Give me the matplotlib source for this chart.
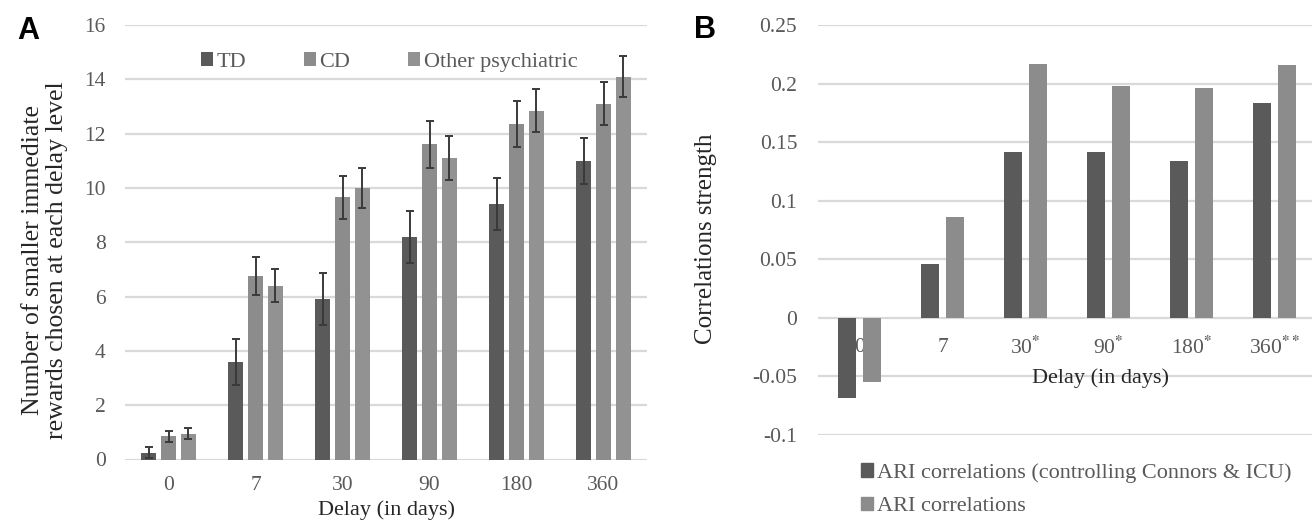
import matplotlib
matplotlib.use("Agg")
import matplotlib.pyplot as plt
import numpy as np
from matplotlib.patches import Patch

# ---------------- data ----------------
delays = ["0", "7", "30", "90", "180", "360"]
groups_a = ["TD", "CD", "Other psychiatric"]
td_vals = [0.25, 3.6, 5.9, 8.2, 9.4, 11.0]
cd_vals = [0.85, 6.75, 9.65, 11.6, 12.35, 13.1]
other_vals = [0.95, 6.4, 10.0, 11.1, 12.85, 14.1]
td_err = [0.2, 0.85, 0.95, 0.95, 0.95, 0.85]
cd_err = [0.2, 0.7, 0.8, 0.85, 0.85, 0.8]
other_err = [0.2, 0.6, 0.75, 0.8, 0.8, 0.75]
yticks_a = [0, 2, 4, 6, 8, 10, 12, 14, 16]

delay_stars_b = ["", "", "*", "*", "*", "**"]
series_b = ["ARI correlations (controlling Connors & ICU)", "ARI correlations"]
ari_ctrl = [-0.068, 0.046, 0.142, 0.142, 0.134, 0.183]
ari_raw = [-0.055, 0.086, 0.217, 0.198, 0.196, 0.216]
yticks_b = [-0.1, -0.05, 0, 0.05, 0.1, 0.15, 0.2, 0.25]
yticklabels_b = ["-0.1", "-0.05", "0", "0.05", "0.1", "0.15", "0.2", "0.25"]

# ---------------- style ----------------
W, H = 1312, 520
SERIF = ["Liberation Serif", "DejaVu Serif"]
plt.rcParams["font.family"] = SERIF
plt.rcParams["mathtext.fontset"] = "stix"
DARK = "#5a5a5a"
LIGHT = "#8c8c8c"
LIGHT2 = "#929292"
GRID = "#d9d9d9"
TICKC = "#595959"
LABELC = "#262626"

fig = plt.figure(figsize=(W / 100, H / 100), dpi=100)


def fx(px):
    return px / W


def fy(py):
    return 1 - py / H


# ---------------- panel A ----------------
axA = fig.add_axes([fx(125), fy(459.5), fx(647 - 125), fy(25) - fy(459.5)])
x = np.arange(len(delays))
bw = 0.175
off = 0.227
ekw = dict(ecolor="#3a3a3a", elinewidth=1.4, capsize=3, capthick=1.4)
axA.bar(x - off, td_vals, bw, yerr=td_err, color=DARK, error_kw=ekw, zorder=3, label=groups_a[0])
axA.bar(x, cd_vals, bw, yerr=cd_err, color=LIGHT, error_kw=ekw, zorder=3, label=groups_a[1])
axA.bar(x + off, other_vals, bw, yerr=other_err, color=LIGHT2, error_kw=ekw, zorder=3, label=groups_a[2])
axA.set_xlim(-0.5, len(delays) - 0.5)
axA.set_ylim(0, 16)
axA.set_yticks(yticks_a)
axA.set_yticklabels([str(v) for v in yticks_a])
axA.set_xticks(x)
axA.set_xticklabels(delays)
axA.yaxis.grid(True, color=GRID, linewidth=1.6, zorder=0)
axA.set_axisbelow(True)
for s in axA.spines.values():
    s.set_visible(False)
axA.tick_params(axis="both", length=0, labelsize=15.5, colors=TICKC)
axA.tick_params(axis="y", pad=14)
axA.tick_params(axis="x", pad=12)

fig.text(fx(386), fy(510), "Delay (in days)", ha="center", va="center",
         fontsize=16, color=LABELC)
fig.text(fx(45), fy(260), "Number of smaller immediate\nrewards chosen at each delay level",
         rotation=90, ha="center", va="center", fontsize=18.5, color=LABELC,
         linespacing=1.1, multialignment="center")
fig.text(fx(28), fy(31), "A", ha="center", va="center", fontsize=22,
         fontweight="bold", family=["Liberation Sans", "DejaVu Sans"], color="black")

legA = axA.legend(loc="center", bbox_to_anchor=(fx(389), fy(62)),
                  bbox_transform=fig.transFigure, ncol=3, frameon=False,
                  fontsize=16, handlelength=0.55, handleheight=0.55,
                  handletextpad=0.15, columnspacing=2.6, borderpad=0)
for t in legA.get_texts():
    t.set_color(TICKC)

# ---------------- panel B ----------------
axB = fig.add_axes([fx(818), fy(435), fx(1316 - 818), fy(25) - fy(435)])
bwb = 0.223
offb = 0.148
axB.bar(x - offb, ari_ctrl, bwb, color=DARK, zorder=3, label=series_b[0])
axB.bar(x + offb, ari_raw, bwb, color=LIGHT, zorder=3, label=series_b[1])
axB.set_xlim(-0.5, len(delays) - 0.5)
axB.set_ylim(-0.1, 0.25)
axB.set_yticks(yticks_b)
axB.set_yticklabels(yticklabels_b)
axB.set_xticks([])
axB.yaxis.grid(True, color=GRID, linewidth=1.6, zorder=0)
axB.set_axisbelow(True)
for s in axB.spines.values():
    s.set_visible(False)
axB.tick_params(axis="both", length=0, labelsize=15.5, colors=TICKC)
axB.tick_params(axis="y", pad=15)

for i, (d, st) in enumerate(zip(delays, delay_stars_b)):
    lab = d if not st else d + r"$^{\mathbf{" + st + "}}$"
    axB.annotate(lab, (i, 0), xytext=(0, -21.5), textcoords="offset points",
                 ha="center", va="center", fontsize=15.5, color=TICKC, zorder=2)

fig.text(fx(1100), fy(378), "Delay (in days)", ha="center", va="center",
         fontsize=16, color=LABELC)
fig.text(fx(706), fy(239), "Correlations strength", rotation=90,
         ha="center", va="center", fontsize=18, color=LABELC)
fig.text(fx(705), fy(30), "B", ha="center", va="center", fontsize=22,
         fontweight="bold", family=["Liberation Sans", "DejaVu Sans"], color="black")

legB = fig.legend(handles=[Patch(color=DARK, label=series_b[0]),
                           Patch(color=LIGHT, label=series_b[1])],
                  loc="upper left", bbox_to_anchor=(fx(850), fy(452)),
                  ncol=1, frameon=False, fontsize=16, handlelength=0.55,
                  handleheight=0.55, handletextpad=0.15, labelspacing=0.62,
                  borderpad=0)
for t in legB.get_texts():
    t.set_color(TICKC)

fig.savefig("out.png", dpi=100)
